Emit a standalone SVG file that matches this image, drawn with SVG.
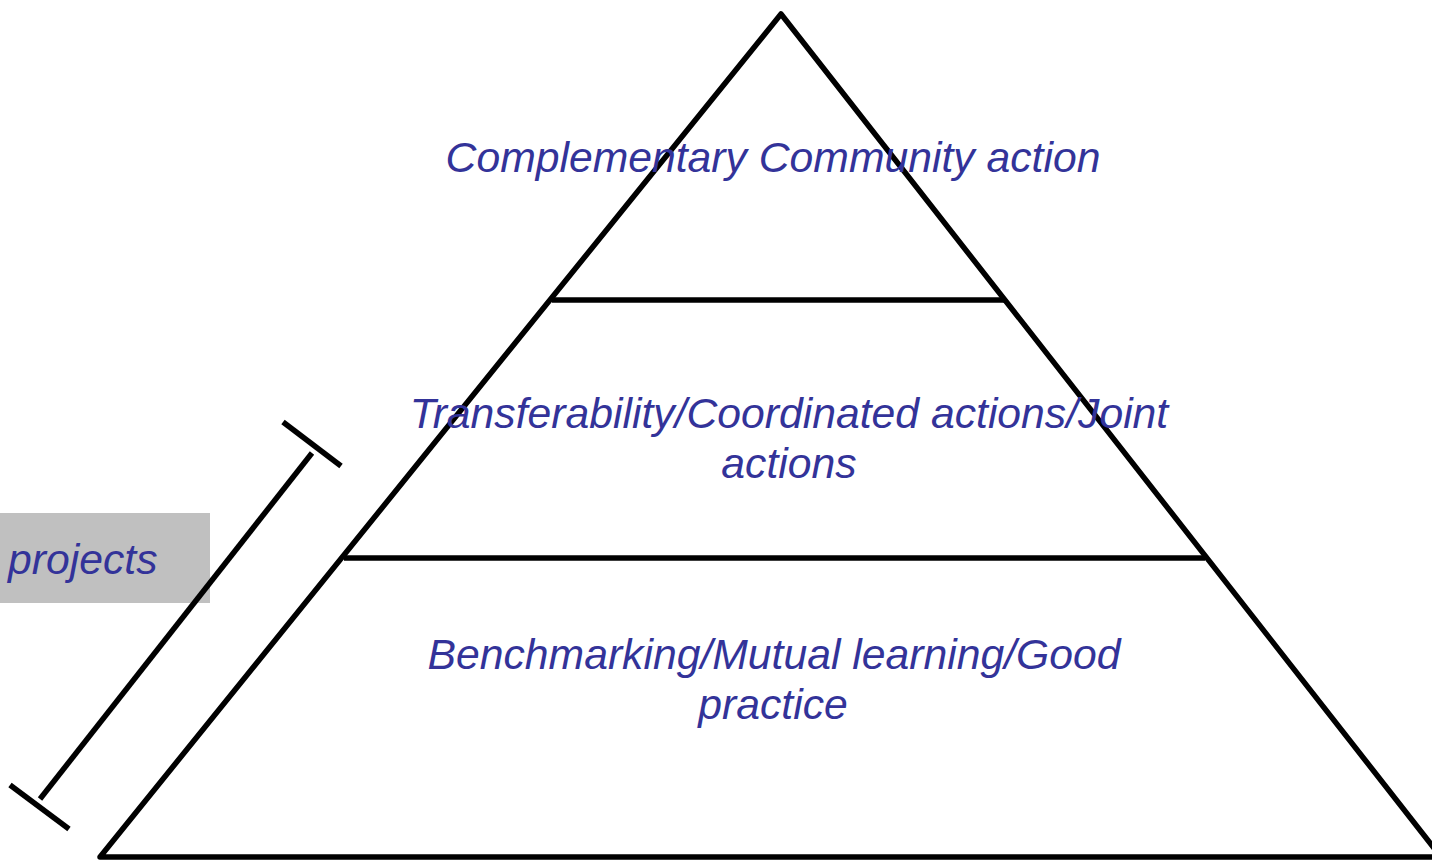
<svg xmlns="http://www.w3.org/2000/svg" width="1432" height="860" viewBox="0 0 1432 860">
<style>
.ln{stroke:#000;stroke-width:5.5;fill:none;stroke-linecap:butt}
.lbl{font-family:"Liberation Sans",Arial,sans-serif;font-style:italic;font-size:42.7px;fill:#333399}
</style>
<rect x="0" y="0" width="1432" height="860" fill="#fff"/>
<g id="projects-box">
<rect x="0" y="513" width="210" height="90" fill="#c0c0c0"/>
<text class="lbl" x="8" y="574">projects</text>
</g>
<g id="connectors">
<line class="ln" x1="312" y1="453" x2="40" y2="799"/>
<line class="ln" x1="283" y1="422" x2="341" y2="466"/>
<line class="ln" x1="10" y1="785" x2="69" y2="829"/>
</g>
<g id="pyramid">
<path class="ln" d="M100,857 L781,14 L1441,857 Z" stroke-linejoin="round"/>
<line class="ln" x1="552" y1="300" x2="1005" y2="300"/>
<line class="ln" x1="344" y1="558" x2="1205" y2="558"/>
</g>
<g id="tier-top">
<text class="lbl" x="773" y="172" text-anchor="middle">Complementary Community action</text>
</g>
<g id="tier-middle">
<text class="lbl" x="789" y="428" text-anchor="middle">Transferability/Coordinated actions/Joint</text>
<text class="lbl" x="789" y="478" text-anchor="middle">actions</text>
</g>
<g id="tier-bottom">
<text class="lbl" x="774" y="669" text-anchor="middle">Benchmarking/Mutual learning/Good</text>
<text class="lbl" x="773" y="719" text-anchor="middle">practice</text>
</g>
</svg>
